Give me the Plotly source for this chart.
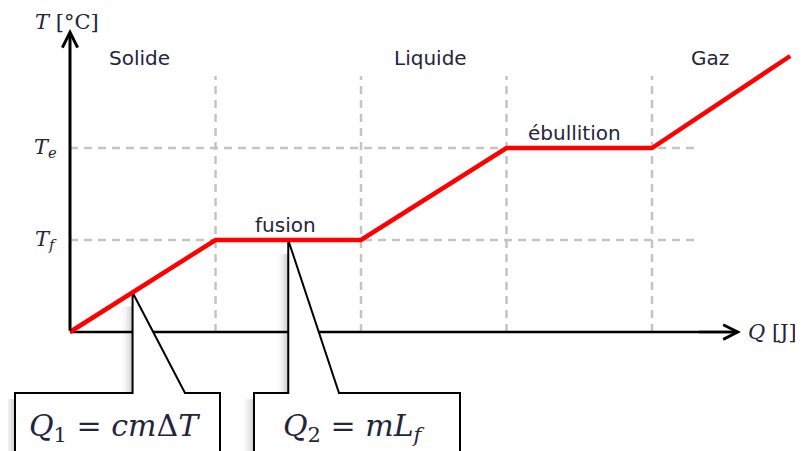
import plotly.graph_objects as go

# ---------------- data ----------------
Q_curve = [0, 1, 2, 3, 4, 4.95]          # heat supplied (arbitrary units)
T_curve = [0, 1, 1, 2, 2, 3]             # temperature (arbitrary units)
T_fusion = 1
T_boil = 2
phase_names = ["Solide", "Liquide", "Gaz"]
phase_Q = [0.48, 2.48, 4.40]
change_names = ["fusion", "ébullition"]
change_Q = [1.48, 3.47]
change_T = [T_fusion, T_boil]
callout_texts = ["<i>Q</i><sub>1</sub> = <i>cm</i>Δ<i>T</i>",
                 "<i>Q</i><sub>2</sub> = <i>mL<sub>f</sub></i>"]
callout_tip_Q = [0.43, 1.5]
callout_tip_T = [0.43, 1.0]

# ---------------- layout constants ----------------
PAGE_W, PAGE_H = 803, 451
OFF = 8                      # default body margin of the page
W, H = PAGE_W - OFF, PAGE_H - OFF
X0, SX = 70, 145.5     # page pixel of Q=0, px per unit
Y0, SY = 332, 92       # page pixel of T=0, px per unit
def qx(px): return (px - X0) / SX
def ty(py): return (Y0 - py) / SY

x_range = [qx(OFF), qx(PAGE_W)]
y_range = [ty(PAGE_H), ty(OFF)]

guide_top_T = ty(76)
guide_right_Q = qx(694)
xaxis_tip_Q = qx(741)
yaxis_tip_T = ty(29)

box_left = [qx(15), qx(254)]
box_right = [qx(220), qx(460)]
box_diag = [qx(185), qx(339)]
box_top = ty(393)
box_bottom = ty(470)

text_col = "#24243a"
math_font = dict(family="DejaVu Serif", color=text_col)
sans_font = dict(family="DejaVu Sans", size=20, color=text_col)
grid_col = "#c4c4c4"

fig = go.Figure()

# dashed guides
for q in [1, 2, 3, 4]:
    fig.add_trace(go.Scatter(x=[q, q], y=[0, guide_top_T], mode="lines",
                             line=dict(color=grid_col, width=2.5, dash="8px,6px"),
                             hoverinfo="skip", showlegend=False))
for t in [T_fusion, T_boil]:
    fig.add_trace(go.Scatter(x=[0, guide_right_Q], y=[t, t], mode="lines",
                             line=dict(color=grid_col, width=2.5, dash="8px,6px"),
                             hoverinfo="skip", showlegend=False))

# x axis line
fig.add_trace(go.Scatter(x=[0, xaxis_tip_Q - 0.02], y=[0, 0], mode="lines",
                         line=dict(color="black", width=2.5),
                         hoverinfo="skip", showlegend=False))

# callout shadows (soft gradient)
shapes = []
alphas = [0.20, 0.14, 0.10, 0.06, 0.035, 0.015]
for i in range(2):
    for k, a in enumerate(alphas):
        w0 = (k * 1.8) / SX
        w1 = ((k + 1) * 1.8) / SX
        shapes.append(dict(type="rect", xref="x", yref="y", layer="below",
                           x0=callout_tip_Q[i] - w1, x1=callout_tip_Q[i] - w0,
                           y0=box_top, y1=callout_tip_T[i] - 14 / SY,
                           fillcolor=f"rgba(0,0,0,{a})", line=dict(width=0)))
        shapes.append(dict(type="rect", xref="x", yref="y", layer="below",
                           x0=box_left[i] - w1, x1=box_left[i] - w0,
                           y0=box_bottom, y1=box_top - 6 / SY,
                           fillcolor=f"rgba(0,0,0,{a})", line=dict(width=0)))

# callouts
for i in range(2):
    xs = [box_left[i], box_left[i], callout_tip_Q[i], callout_tip_Q[i],
          box_diag[i], box_right[i], box_right[i], box_left[i]]
    ys = [box_bottom, box_top, box_top, callout_tip_T[i],
          box_top, box_top, box_bottom, box_bottom]
    fig.add_trace(go.Scatter(x=xs, y=ys, mode="lines", fill="toself",
                             fillcolor="white",
                             line=dict(color="black", width=2),
                             hoverinfo="skip", showlegend=False))

# heating curve
fig.add_trace(go.Scatter(x=Q_curve, y=T_curve, mode="lines",
                         line=dict(color="#ff0000", width=4.5),
                         hoverinfo="skip", showlegend=False))

ann = []
# y axis with arrow
ann.append(dict(x=0, y=yaxis_tip_T, ax=0, ay=0, xref="x", yref="y",
                axref="x", ayref="y", text="", showarrow=True,
                arrowhead=5, arrowsize=1.0, arrowwidth=3, arrowcolor="black"))
# x axis arrow head
ann.append(dict(x=xaxis_tip_Q, y=0, ax=xaxis_tip_Q - 0.3, ay=0, xref="x", yref="y",
                axref="x", ayref="y", text="", showarrow=True,
                arrowhead=5, arrowsize=1.15, arrowwidth=2.5, arrowcolor="black"))
# axis titles
ann.append(dict(x=qx(67), y=ty(22), xref="x", yref="y", showarrow=False,
                text="<i>T</i> [°C]", font=dict(**math_font, size=21)))
ann.append(dict(x=qx(746), y=0, xref="x", yref="y", showarrow=False,
                xanchor="left", text="<i>Q</i> [J]", font=dict(**math_font, size=21)))
# tick-like labels
ann.append(dict(x=qx(59), y=T_boil, xref="x", yref="y", showarrow=False,
                xanchor="right", text="<i>T<sub>e</sub></i>", font=dict(**math_font, size=21)))
ann.append(dict(x=qx(59), y=T_fusion, xref="x", yref="y", showarrow=False,
                xanchor="right", text="<i>T<sub>f</sub></i>", font=dict(**math_font, size=21)))
# phase labels
for name, q in zip(phase_names, phase_Q):
    ann.append(dict(x=q, y=ty(58), xref="x", yref="y", showarrow=False,
                    text=name, font=sans_font))
for name, q, t in zip(change_names, change_Q, change_T):
    ann.append(dict(x=q, y=t + 15 / SY, xref="x", yref="y", showarrow=False,
                    text=name, font=sans_font))
# callout texts
for i in range(2):
    ann.append(dict(x=(box_left[i] + box_right[i]) / 2 - 0.02, y=ty(427),
                    xref="x", yref="y", showarrow=False,
                    text=callout_texts[i], font=dict(**math_font, size=30)))

fig.update_layout(
    width=W, height=H, autosize=False,
    margin=dict(l=0, r=0, t=0, b=0),
    paper_bgcolor="white", plot_bgcolor="white",
    xaxis=dict(range=x_range, visible=False, fixedrange=True),
    yaxis=dict(range=y_range, visible=False, fixedrange=True),
    shapes=shapes, annotations=ann, showlegend=False,
)

fig.write_html("out.html")
